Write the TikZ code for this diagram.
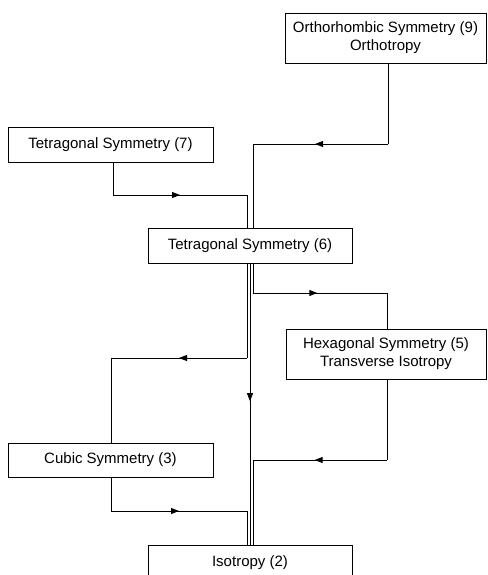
\documentclass[tikz,border=0pt]{standalone}
\usepackage{fontspec}
\setmainfont{Liberation Sans}
\usetikzlibrary{arrows.meta,decorations.markings}
\tikzset{
  symbox/.style={draw, line width=0.9pt, align=center, font=\fontsize{15}{18}\selectfont,
    inner sep=0pt, fill=white},
  symwire/.style={line width=0.9pt},
  midarrow/.style={symwire, decoration={markings,
    mark=at position #1 with {\arrow{Triangle[length=8pt,width=6pt]}}}, postaction={decorate}},
  midarrow/.default=0.5,
}

\begin{document}
\begin{tikzpicture}[x=1pt,y=-1pt]
  \useasboundingbox (0,0) rectangle (487,575);
  % symmetry classes
  \node[symbox, minimum width=201pt, minimum height=50pt] (ortho) at (385.5,38) {Orthorhombic Symmetry (9)\\Orthotropy};
  \node[symbox, minimum width=205pt, minimum height=35pt] (tet7) at (110.5,144.5) {Tetragonal Symmetry (7)};
  \node[symbox, minimum width=204pt, minimum height=35pt] (tet6) at (250,245.5) {Tetragonal Symmetry (6)};
  \node[symbox, minimum width=200pt, minimum height=50pt] (hexa) at (386,354) {Hexagonal Symmetry (5)\\Transverse Isotropy};
  \node[symbox, minimum width=205pt, minimum height=34pt] (cubic) at (110.5,460) {Cubic Symmetry (3)};
  \node[symbox, minimum width=204pt, minimum height=36pt] (iso) at (250,563) {Isotropy (2)};
  % orthotropy -> tetragonal (6)
  \coordinate (o1) at (388,144);
  \coordinate (o2) at (253,144);
  \draw[symwire] (ortho.south -| o1) -- (o1);
  \draw[midarrow=0.54] (o1) -- (o2);
  \draw[symwire] (o2) -- (o2 |- tet6.north);
  % tetragonal (7) -> tetragonal (6)
  \coordinate (s1) at (113,195);
  \coordinate (s2) at (247,195);
  \draw[symwire] (tet7.south -| s1) -- (s1);
  \draw[midarrow] (s1) -- (s2);
  \draw[symwire] (s2) -- (s2 |- tet6.north);
  % tetragonal (6) -> hexagonal
  \coordinate (h1) at (253,293);
  \coordinate (h2) at (387,293);
  \draw[symwire] (tet6.south -| h1) -- (h1);
  \draw[midarrow=0.48] (h1) -- (h2);
  \draw[symwire] (h2) -- (h2 |- hexa.north);
  % tetragonal (6) -> cubic
  \coordinate (c1) at (247,358);
  \coordinate (c2) at (111,358);
  \draw[symwire] (tet6.south -| c1) -- (c1);
  \draw[midarrow] (c1) -- (c2);
  \draw[symwire] (c2) -- (c2 |- cubic.north);
  % tetragonal (6) -> isotropy
  \coordinate (d1) at (250,263);
  \draw[midarrow=0.49] (tet6.south -| d1) -- (iso.north -| d1);
  % hexagonal -> isotropy
  \coordinate (x1) at (387,460);
  \coordinate (x2) at (253,460);
  \draw[symwire] (hexa.south -| x1) -- (x1);
  \draw[midarrow=0.54] (x1) -- (x2);
  \draw[symwire] (x2) -- (x2 |- iso.north);
  % cubic -> isotropy
  \coordinate (k1) at (111,511);
  \coordinate (k2) at (247,511);
  \draw[symwire] (cubic.south -| k1) -- (k1);
  \draw[midarrow] (k1) -- (k2);
  \draw[symwire] (k2) -- (k2 |- iso.north);
\end{tikzpicture}
\end{document}
